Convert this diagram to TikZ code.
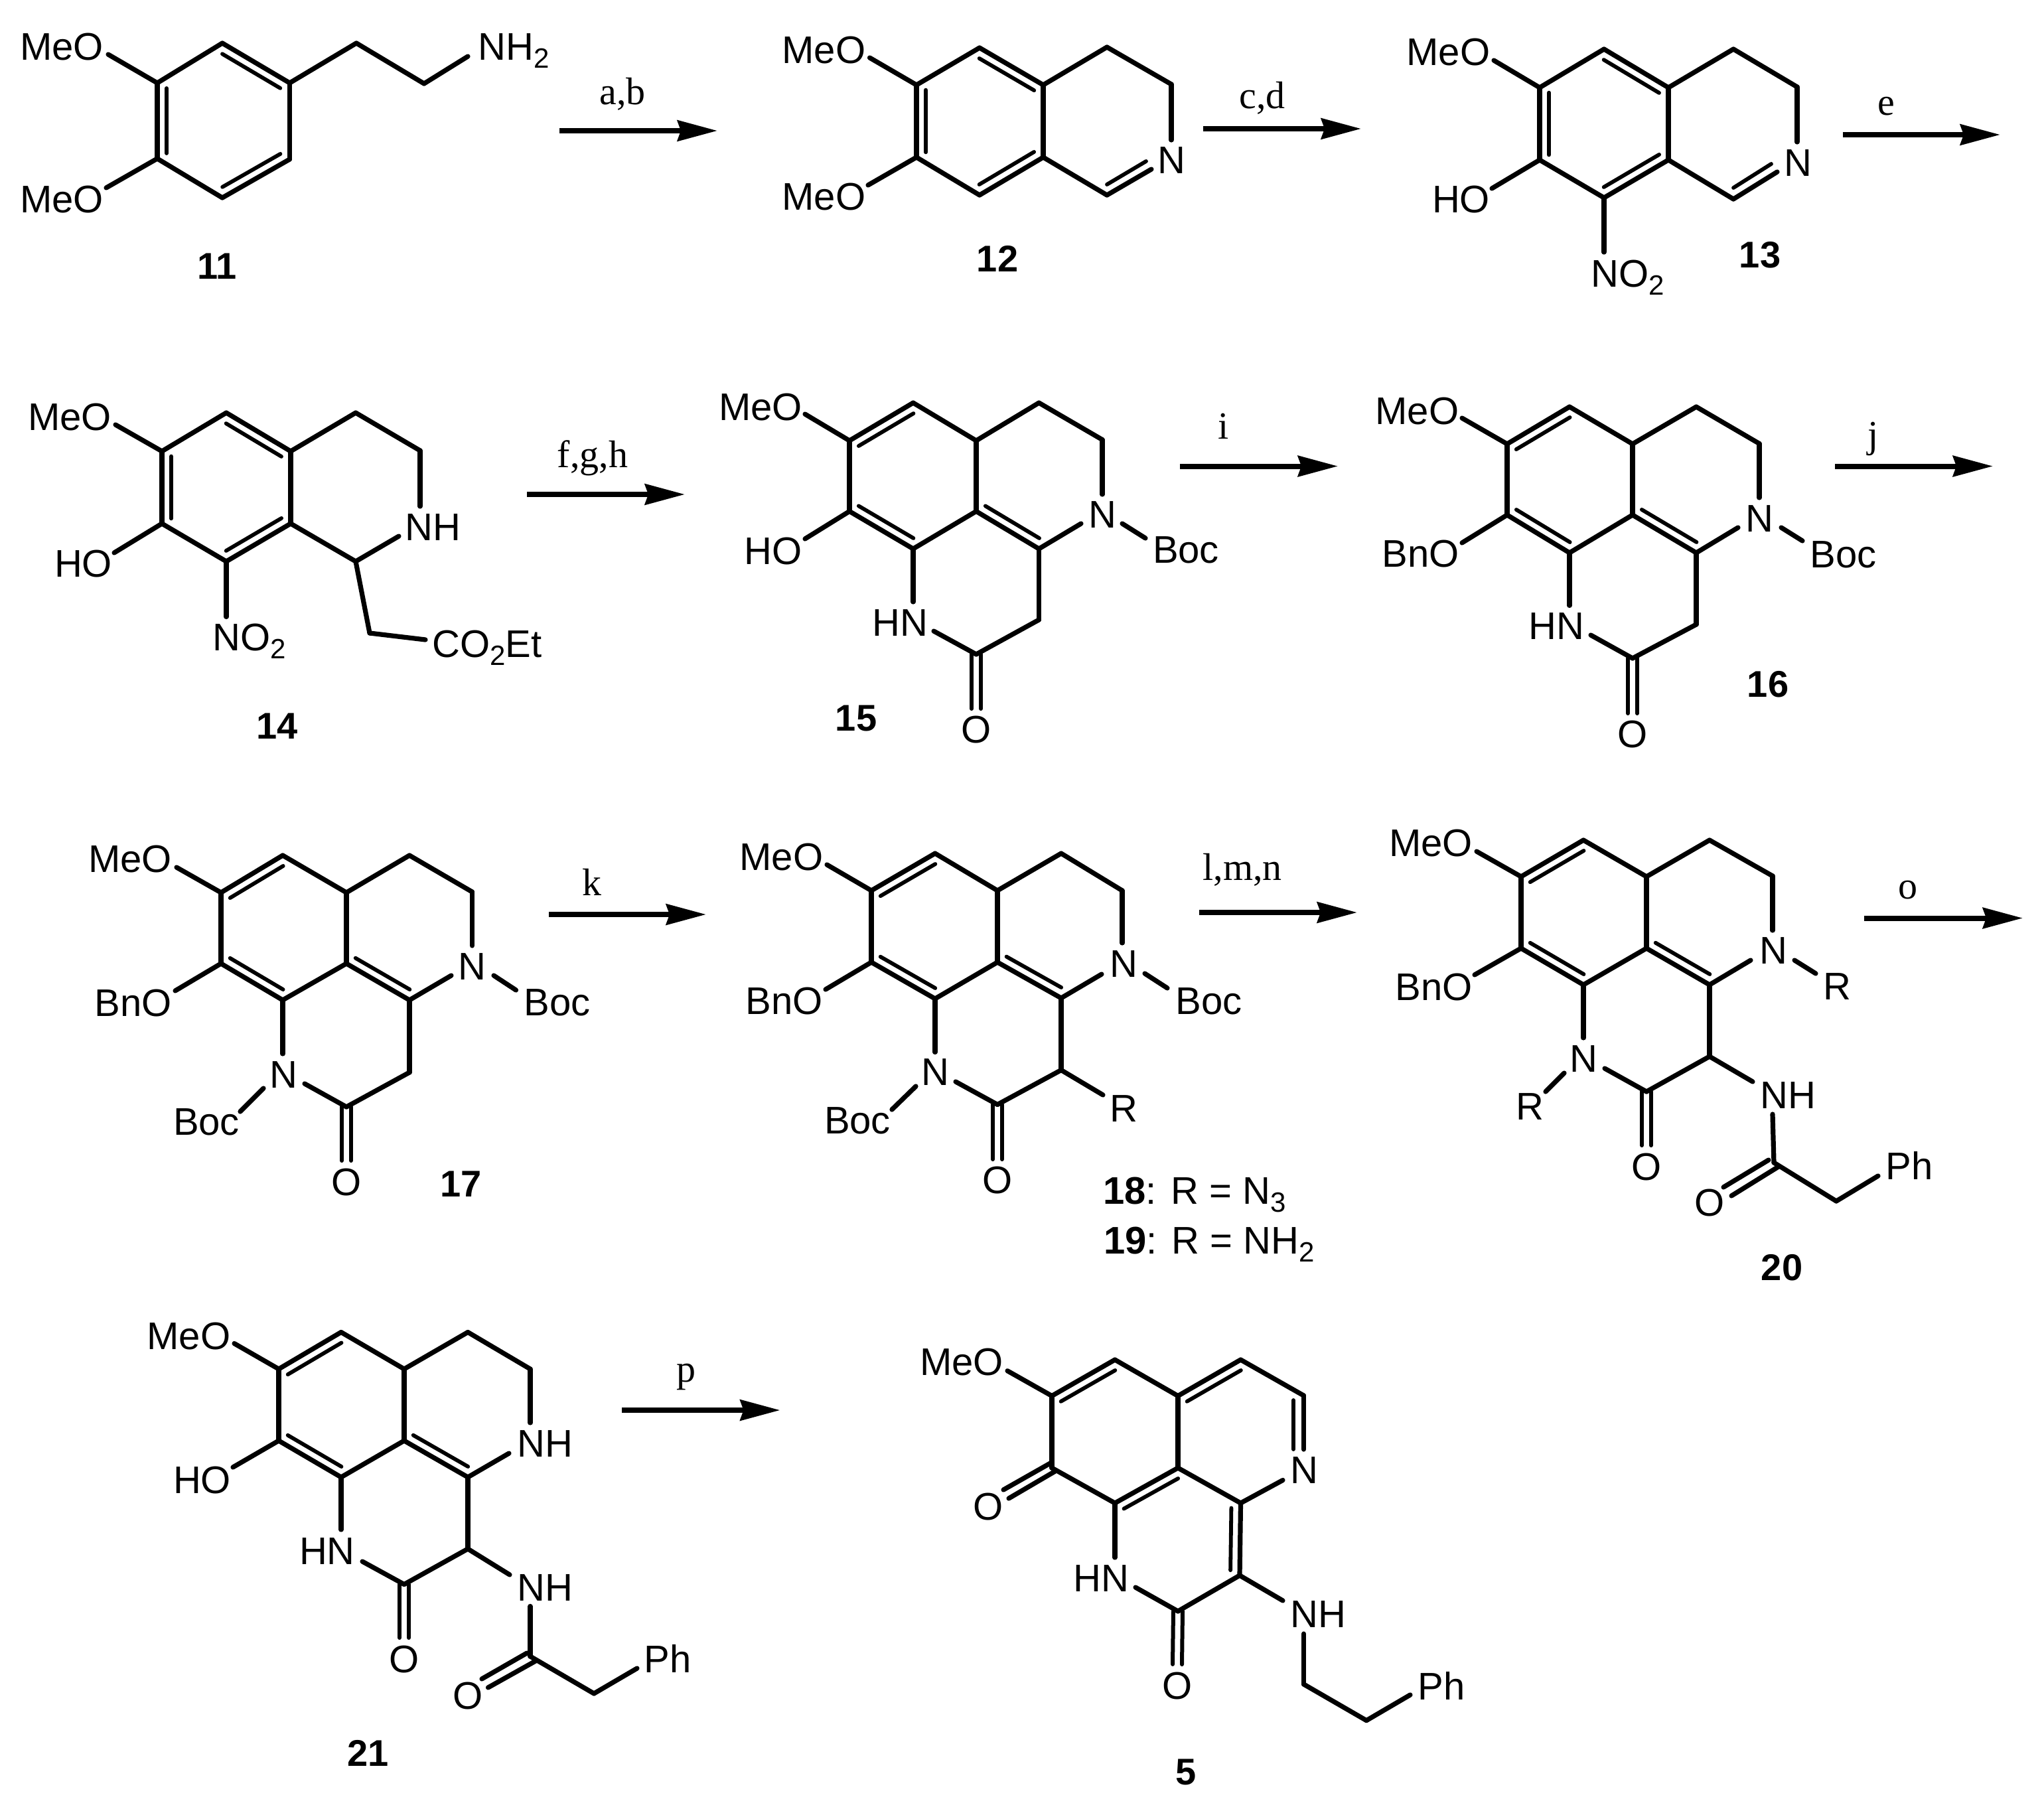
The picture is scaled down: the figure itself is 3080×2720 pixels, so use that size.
\documentclass[tikz,border=0pt]{standalone}
\usepackage{fontspec}
\setmainfont{Liberation Sans}
\newfontfamily\chserif{Liberation Serif}
\usetikzlibrary{calc,arrows.meta}
\tikzset{
  bondline/.style={draw=black,line width=3.6pt,line cap=round,line join=round},
  innerbond/.style={draw=black,line width=2.9pt,line cap=round},
  chemlabel/.style={inner sep=0pt,anchor=base,font=\fontsize{29}{31}\selectfont},
  cmpdlabel/.style={inner sep=0pt,anchor=base,font=\fontsize{28}{30}\selectfont\bfseries},
  reagent/.style={inner sep=0pt,anchor=base,font=\fontsize{29}{31}\selectfont\chserif},
  rxnarrow/.style={draw=black,line width=4pt,-{Stealth[length=30pt,width=15.5pt,inset=2.5pt]}}
}
\newcommand\chatoms[2]{\foreach \n/\px/\py in {#2}{\coordinate (#1\n) at (\px,\py);}}
\newcommand\chbonds[2]{\foreach \ba/\bb in {#2}{\draw[bondline] (#1\ba)--(#1\bb);}}
\newcommand\chin[2]{\foreach \ba/\bb/\bw in {#2}{\draw[innerbond] ($(#1\ba)!.07!(#1\bb)!7pt!\bw:(#1\bb)$) -- ($(#1\bb)!.07!(#1\ba)!-7pt!\bw:(#1\ba)$);}}
\newcommand\chinl[2]{\foreach \ba/\bb in {#2}{\draw[innerbond] (#1\ba)--(#1\bb);}}
\newcommand\chdbl[2]{\foreach \ba/\bb in {#2}{\draw[bondline,line width=3pt] ($(#1\ba)!3.5pt!90:(#1\bb)$) -- ($(#1\bb)!-3.5pt!90:(#1\ba)$);\draw[bondline,line width=3pt] ($(#1\ba)!-3.5pt!90:(#1\bb)$) -- ($(#1\bb)!3.5pt!90:(#1\ba)$);}}
\newcommand\chlab[4]{\node[chemlabel] (#1) at (#2,#3) {#4};}
\newcommand\chnum[4]{\node[cmpdlabel] (#1) at (#2,#3) {#4};}
\newcommand\chsub[1]{\raisebox{-6pt}{\fontsize{21}{22}\selectfont #1}}
\newcommand\chrxn[7]{\coordinate (#1s) at (#2,#4);\coordinate (#1e) at (#3,#4);\draw[rxnarrow] (#1s)--(#1e);\node[reagent] (#1t) at (#5,#6) {#7};}
\begin{document}
\begin{tikzpicture}[x=0.5pt,y=-0.5pt]
\useasboundingbox (0,0) rectangle (3080,2720);
% 11
\chatoms{m11}{a/237/125,b/335/65,c/436.5/125,d/436.5/240,e/335/298,f/237/239,g/537/65,h/639/126,i/705/85,j/163/82,k/160/283}
\chbonds{m11}{a/b,b/c,c/d,d/e,e/f,f/a,a/j,f/k,c/g,g/h,h/i}
\chin{m11}{a/f/90,e/d/90,c/b/90}
\chlab{m11l1}{93}{90}{MeO}\chlab{m11l2}{93}{320}{MeO}\chlab{m11l3}{774}{90}{NH\chsub{2}}\chnum{m11n}{327}{420}{11}
\chrxn{r1}{843}{1081}{197}{938}{157}{a,b}
% 12
\chatoms{m12}{a/1381/128,b/1476/72,c/1572/128,d/1572/237,e/1476/294,f/1381/237,g/1668/71,h/1765/127,i/1765/211,j/1668/294,k/1735/255,l/1668/278,m/1727/243,n/1310.5/87,o/1308/279}
\chbonds{m12}{a/b,b/c,c/d,d/e,e/f,f/a,a/n,f/o,c/g,g/h,h/i,d/j,j/k}
\chin{m12}{a/f/90,e/d/90,c/b/90}\chinl{m12}{l/m}
\chlab{m12l1}{1241.5}{95}{MeO}\chlab{m12l2}{1241.5}{316}{MeO}\chlab{m12l3}{1765}{261}{N}\chnum{m12n}{1503}{409}{12}
\chrxn{r2}{1813}{2051}{194}{1902}{163}{c,d}
% 13
\chatoms{m13}{a/2320/132,b/2417/74,c/2514/132,d/2514/241,e/2417/298,f/2320/241,g/2612/74,h/2708/131,i/2708/214,j/2612/300,k/2678/259,l/2612/283,m/2669/247,n/2251/91,o/2248/284,p/2417/380}
\chbonds{m13}{a/b,b/c,c/d,d/e,e/f,f/a,a/n,f/o,c/g,g/h,h/i,d/j,j/k,e/p}
\chin{m13}{a/f/90,e/d/90,c/b/90}\chinl{m13}{l/m}
\chlab{m13l1}{2182.5}{98}{MeO}\chlab{m13l2}{2201.5}{320}{HO}\chlab{m13l3}{2709.5}{265}{N}\chlab{m13l4}{2452.5}{432}{NO\chsub{2}}\chnum{m13n}{2652}{403}{13}
\chrxn{r3}{2777}{3014}{203}{2842}{173}{e}
% 14
\chatoms{m14}{a/244/680,b/341/622,c/438/680,d/438/789,e/341/846,f/244/789,g/536/622,h/633/679,i/633/763,j/536/846,k/601/808,l/174/640,m/172/833,n/341/929.5,o/557/954,p/641/964}
\chbonds{m14}{a/b,b/c,c/d,d/e,e/f,f/a,a/l,f/m,c/g,g/h,h/i,d/j,j/k,e/n,j/o,o/p}
\chin{m14}{a/f/90,e/d/90,c/b/90}
\chlab{m14l1}{105}{648}{MeO}\chlab{m14l2}{125.5}{869}{HO}\chlab{m14l3}{652.5}{814}{NH}\chlab{m14l4}{376}{980}{NO\chsub{2}}\chlab{m14l5}{734}{990}{CO\chsub{2}Et}\chnum{m14n}{418}{1113}{14}
\chrxn{r4}{794}{1032}{745}{893}{704}{f,g,h}
% 15
\chatoms{m15}{a/1280/664,b/1376/607,c/1471/664,d/1471/770.5,e/1376/827,f/1280/770.5,g/1565.5/607,h/1661/662.6,i/1661/745,j/1565.5/827,k/1629/789,l/1691/789,m/1726/811,n/1565.5/934,o/1471/986,p/1376/907,q/1407/951,r/1471/1068,s/1213/624,t/1213/812}
\chbonds{m15}{a/b,b/c,c/d,d/e,e/f,f/a,a/s,f/t,c/g,g/h,h/i,d/j,j/k,l/m,j/n,n/o,q/o,e/p}
\chin{m15}{b/a/90,f/e/90,d/j/90}\chdbl{m15}{o/r}
\chlab{m15l1}{1146}{633}{MeO}\chlab{m15l2}{1165}{850}{HO}\chlab{m15l3}{1356}{958}{HN}\chlab{m15l4}{1661}{795}{N}\chlab{m15l5}{1787}{848}{Boc}\chlab{m15l6}{1471}{1119}{O}\chnum{m15n}{1290}{1101}{15}
\chrxn{r5}{1778}{2016}{702.5}{1844}{661}{i}
% 16
\chatoms{m16}{a/2271/669,b/2365/613,c/2460/669,d/2460/776,e/2365/833,f/2271/776,g/2556/613,h/2651/668.5,i/2651/750,j/2556/833,k/2619/795,l/2684/795,m/2716/815,n/2556/941,o/2460/992,p/2365/912.5,q/2397/957,r/2460/1075,s/2203/630,t/2203/818}
\chbonds{m16}{a/b,b/c,c/d,d/e,e/f,f/a,a/s,f/t,c/g,g/h,h/i,d/j,j/k,l/m,j/n,n/o,q/o,e/p}
\chin{m16}{b/a/90,f/e/90,d/j/90}\chdbl{m16}{o/r}
\chlab{m16l1}{2135.5}{639}{MeO}\chlab{m16l2}{2140.5}{854}{BnO}\chlab{m16l3}{2345}{963}{HN}\chlab{m16l4}{2651.5}{801}{N}\chlab{m16l5}{2777.5}{855}{Boc}\chlab{m16l6}{2460}{1126}{O}\chnum{m16n}{2664}{1050}{16}
\chrxn{r6}{2765}{3003}{702.5}{2823}{674}{j}
% 17
\chatoms{m17}{a/333/1345,b/426/1289,c/522/1345,d/522/1452,e/426/1507,f/333/1452,g/617/1289,h/711.5/1344,i/711.5/1425,j/617/1507,k/680/1470,l/744/1470,m/777.5/1492,n/617/1616,o/522/1668,p/426/1588,q/459/1633,r/522/1749,s/266/1307,t/264/1493,u/397/1640,v/362/1675}
\chbonds{m17}{a/b,b/c,c/d,d/e,e/f,f/a,a/s,f/t,c/g,g/h,h/i,d/j,j/k,l/m,j/n,n/o,q/o,e/p,u/v}
\chin{m17}{b/a/90,f/e/90,d/j/90}\chdbl{m17}{o/r}
\chlab{m17l1}{196}{1314}{MeO}\chlab{m17l2}{201}{1531}{BnO}\chlab{m17l3}{427}{1639}{N}\chlab{m17l4}{711}{1476}{N}\chlab{m17l5}{839.5}{1530}{Boc}\chlab{m17l6}{311}{1710}{Boc}\chlab{m17l7}{522}{1801}{O}\chnum{m17n}{695}{1803}{17}
\chrxn{r7}{827}{1064}{1378}{892}{1349}{k}
% 18/19
\chatoms{m18}{a/1313/1342,b/1409/1286,c/1503/1342,d/1503/1450,e/1409/1505,f/1313/1450,g/1599/1286,h/1691/1342,i/1691/1421,j/1599/1504,k/1660/1468,l/1725/1467,m/1759/1489,n/1599/1612.5,o/1503/1664.5,p/1409/1585.5,q/1440/1630,r/1503/1747,s/1246/1303,t/1244/1491,u/1380/1637,v/1344/1672,w/1662/1650}
\chbonds{m18}{a/b,b/c,c/d,d/e,e/f,f/a,a/s,f/t,c/g,g/h,h/i,d/j,j/k,l/m,j/n,n/o,q/o,e/p,u/v,n/w}
\chin{m18}{b/a/90,f/e/90,d/j/90}\chdbl{m18}{o/r}
\chlab{m18l1}{1177.5}{1311}{MeO}\chlab{m18l2}{1182}{1528}{BnO}\chlab{m18l3}{1409}{1635}{N}\chlab{m18l4}{1693}{1472}{N}\chlab{m18l5}{1821.5}{1528}{Boc}\chlab{m18l6}{1292}{1708}{Boc}\chlab{m18l7}{1503}{1798}{O}\chlab{m18l8}{1693}{1690}{R}
\chlab{m18n}{1800}{1814}{\textbf{18}: R = N\chsub{3}}\chlab{m19n}{1822}{1889}{\textbf{19}: R = NH\chsub{2}}
\chrxn{r8}{1807}{2045}{1375}{1872}{1326.5}{l,m,n}
% 20
\chatoms{m20}{a/2292/1321,b/2386/1266,c/2481/1321,d/2481/1429,e/2386/1484,f/2292/1429,g/2576/1266,h/2671/1320,i/2671/1402,j/2576/1484,k/2638/1447,l/2704/1447,m/2736/1467,n/2576/1592,o/2481/1645,p/2386/1564,q/2418/1610,r/2481/1726,s/2225/1283,t/2222/1469,u/2357/1617,v/2329/1645,w/2641/1630,x/2671/1679,y/2673/1752,z/2767/1810,aa/2830/1772,ba/2665/1748,bb/2597/1789,bc/2680/1758,bd/2609/1802}
\chbonds{m20}{a/b,b/c,c/d,d/e,e/f,f/a,a/s,f/t,c/g,g/h,h/i,d/j,j/k,l/m,j/n,n/o,q/o,e/p,u/v,n/w,x/y,y/z,z/aa,ba/bb,bc/bd}
\chin{m20}{b/a/90,f/e/90,d/j/90}\chdbl{m20}{o/r}
\chlab{m20l1}{2156}{1290}{MeO}\chlab{m20l2}{2161}{1507}{BnO}\chlab{m20l3}{2386}{1615}{N}\chlab{m20l4}{2672}{1452}{N}\chlab{m20l5}{2768}{1506}{R}\chlab{m20l6}{2305}{1687}{R}\chlab{m20l7}{2694}{1670}{NH}\chlab{m20l8}{2481}{1778}{O}\chlab{m20l9}{2576}{1832}{O}\chlab{m20l10}{2877}{1777}{Ph}\chnum{m20n}{2685}{1929}{20}
\chrxn{r9}{2809}{3048}{1383.5}{2875}{1354}{o}
% 21
\chatoms{m21}{a/420/2063,b/514/2007.5,c/609/2063,d/609/2171,e/514/2226,f/420/2171,g/705/2007.5,h/799/2063,i/799/2144,j/705/2226,k/767/2190,n/705/2334,o/609/2387.5,p/514/2305,q/546/2353,r/609/2468,s/353/2024.5,t/351/2211,w/768/2373,x/799/2420.5,y/799/2496,z/895/2552,aa/960/2514,ba/794/2491,bb/726/2530,bc/807/2503,bd/735.5/2543}
\chbonds{m21}{a/b,b/c,c/d,d/e,e/f,f/a,a/s,f/t,c/g,g/h,h/i,d/j,j/k,j/n,n/o,q/o,e/p,n/w,x/y,y/z,z/aa,ba/bb,bc/bd}
\chin{m21}{b/a/90,f/e/90,d/j/90}\chdbl{m21}{o/r}
\chlab{m21l1}{284.5}{2033}{MeO}\chlab{m21l2}{304.5}{2250}{HO}\chlab{m21l3}{821.5}{2195}{NH}\chlab{m21l4}{493}{2357.5}{HN}\chlab{m21l5}{821.5}{2412}{NH}\chlab{m21l6}{609}{2520}{O}\chlab{m21l7}{705}{2575}{O}\chlab{m21l8}{1006}{2520}{Ph}\chnum{m21n}{555}{2661}{21}
\chrxn{r10}{937}{1175.5}{2125}{1034}{2082}{p}
% 5
\chatoms{m5}{a/1585/2103.5,b/1680/2049,c/1775/2103.5,d/1775/2212,e/1680/2265,f/1585/2212,g/1869.5/2049,h/1964.5/2103,i/1964.5/2184,j/1869.5/2265,k/1933/2230.5,n/1868/2374,o/1775/2428,p/1680/2347,q/1711/2392,r/1774/2508,s/1518/2065.7,w/1933/2412,x/1964.5/2462,y/1964.5/2538,z/2059/2592.6,aa/2125/2554,ba/1582.5/2205,bb/1512/2245,bc/1590/2217,bd/1520/2258,ia/1949/2110,ib/1949/2184}
\chbonds{m5}{a/b,b/c,c/d,d/e,e/f,f/a,a/s,c/g,g/h,h/i,d/j,j/k,j/n,n/o,q/o,e/p,n/w,x/y,y/z,z/aa,ba/bb,bc/bd}
\chin{m5}{a/b/-90,e/d/-90,c/g/-90,j/n/-90}\chinl{m5}{ia/ib}\chdbl{m5}{o/r}
\chlab{m5l1}{1449}{2072.5}{MeO}\chlab{m5l2}{1489}{2290}{O}\chlab{m5l3}{1965}{2235}{N}\chlab{m5l4}{1659}{2398}{HN}\chlab{m5l5}{1986.5}{2452}{NH}\chlab{m5l6}{1774}{2560}{O}\chlab{m5l7}{2172}{2561}{Ph}\chnum{m5n}{1787}{2689.5}{5}
\end{tikzpicture}
\end{document}
